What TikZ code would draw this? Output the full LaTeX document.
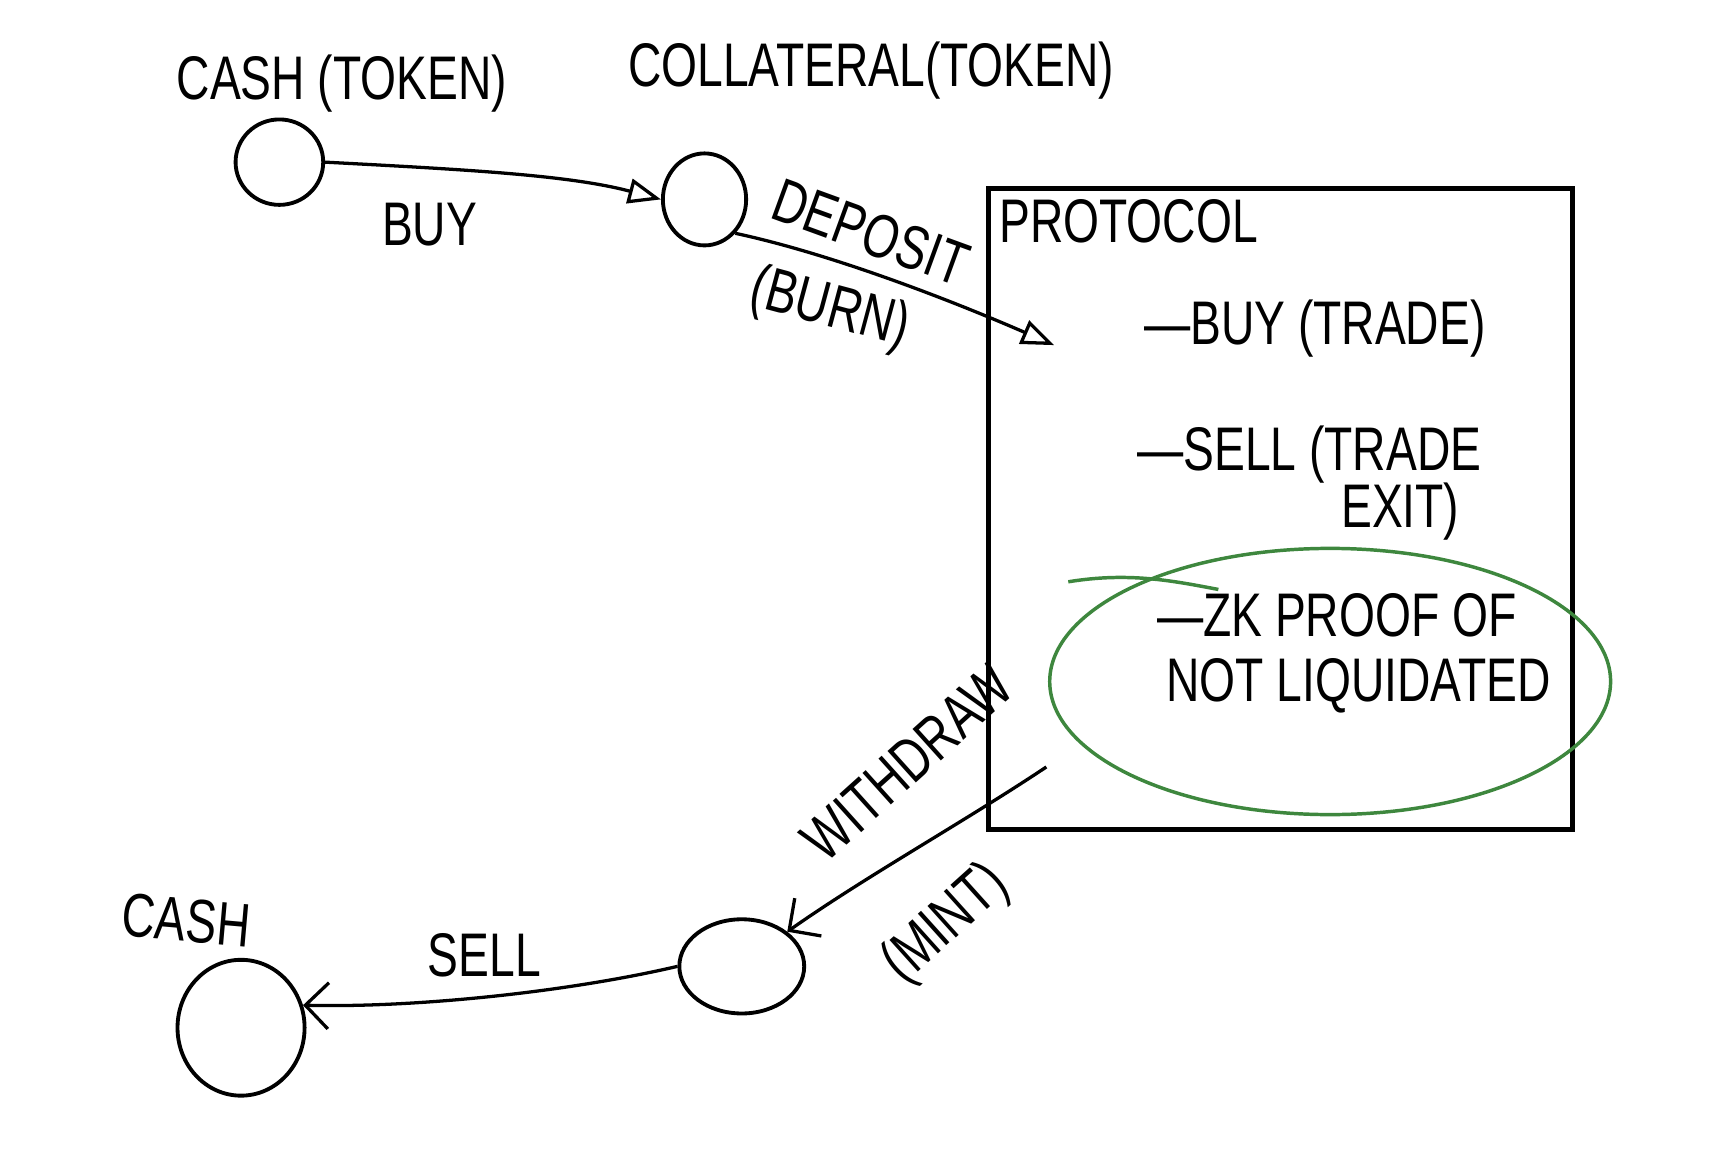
\documentclass[tikz,border=0pt]{standalone}
\usepackage{fontspec}
\newfontfamily\hand[FakeStretch=0.75]{Liberation Sans}
\usetikzlibrary{arrows.meta,shapes.geometric}
\definecolor{sketchgreen}{RGB}{62,135,62}
\begin{document}
\begin{tikzpicture}[x=0.02cm,y=-0.02cm,
  lbl/.style={font=\hand\fontsize{32}{36}\selectfont, inner sep=0pt},
  blob/.style={draw, ellipse, line width=2pt, inner sep=0pt},
  flow/.style={line width=1.7pt},
  tri/.style={-{Triangle[open,length=17pt,width=13pt,line width=1.7pt]}},
  barb/.style={-{Straight Barb[length=12pt,width=24pt,line width=1.7pt]}},
]
\useasboundingbox (0,0) rectangle (1568,1050);
% nodes
\node[blob, minimum width=1.6cm, minimum height=1.56cm] (c1) at (255,148) {};
\node[blob, minimum width=1.52cm, minimum height=1.68cm] (c2) at (643,182) {};
\node[blob, minimum width=2.28cm, minimum height=1.72cm] (c3) at (677,882) {};
\node[blob, minimum width=2.32cm, minimum height=2.48cm] (c4) at (220,938) {};
\node[draw, line width=2.4pt, minimum width=10.66cm, minimum height=11.7cm, inner sep=0pt] (proto) at (1168.5,464.5) {};
\node[draw=sketchgreen, line width=1.8pt, ellipse, minimum width=10.24cm, minimum height=4.86cm, inner sep=0pt] (zk) at (1214,622) {};
\draw[sketchgreen, line width=1.8pt] (975,531) .. controls (1030,522) and (1070,530) .. (1112,538);
% labels
\node[lbl] (tcash1) at (312,76) {CASH (TOKEN)};
\node[lbl] (tcoll) at (795,64) {COLLATERAL(TOKEN)};
\node[lbl] (tbuy) at (392,205) {BUY};
\node[lbl, rotate=-20] (tdep) at (795,212) {DEPOSIT};
\node[lbl, rotate=-15] (tburn) at (757,283) {(BURN)};
\node[lbl] (tproto) at (1030,202) {PROTOCOL};
\node[lbl] (tpbuy) at (1200,300) {—BUY (TRADE)};
\node[lbl] (tpsell) at (1195,415) {—SELL (TRADE};
\node[lbl] (tpexit) at (1278,467) {EXIT)};
\node[lbl] (tzk1) at (1220,562) {—ZK PROOF OF};
\node[lbl] (tzk2) at (1240,626) {NOT LIQUIDATED};
\node[lbl, rotate=42] (twd) at (828,696) {WITHDRAW};
\node[lbl, rotate=42] (tmint) at (864,844) {(MINT)};
\node[lbl] (tsell) at (442,872) {SELL};
\node[lbl, rotate=-5] (tcash2) at (170,840) {CASH};
% connectors
\coordinate (din) at (962,315);
\coordinate (wout) at (955,700);
\draw[flow, tri] (c1.east) .. controls (430,155) and (520,160) .. (c2.west);
\draw[flow, tri] (c2.south east) .. controls (760,232) and (870,275) .. (din);
\draw[flow, barb] (wout) .. controls (880,750) and (790,800) .. (c3.north east);
\draw[flow, barb] (c3.west) .. controls (520,905) and (380,920) .. (c4.20);
\end{tikzpicture}
\end{document}
